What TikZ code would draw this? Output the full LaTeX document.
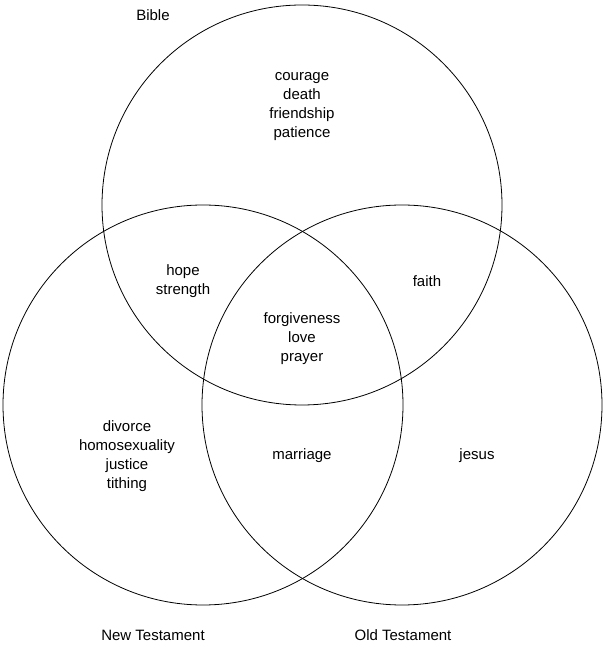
\documentclass[tikz,border=0pt]{standalone}
\usepackage{fontspec}
\setmainfont{Liberation Sans}

\tikzset{set/.style={draw, line width=0.8pt},
         term/.style={align=center, font=\fontsize{15}{19}\selectfont, inner sep=0pt}}

\begin{document}
\begin{tikzpicture}[x=1pt, y=1pt]
\useasboundingbox (0,0) rectangle (606,648);
\draw[set] (302,443) circle (200);
\draw[set] (203,243) circle (200);
\draw[set] (402,243) circle (200);
\node[term] (bible) at (153,633) {Bible};
\node[term] (nt) at (153,13) {New Testament};
\node[term] (ot) at (403,13) {Old Testament};
\node[term] (b) at (302,541) {courage\\death\\friendship\\patience};
\node[term] (bn) at (183,367) {hope\\strength};
\node[term] (bo) at (427,367) {faith};
\node[term] (bno) at (302,309) {forgiveness\\love\\prayer};
\node[term] (n) at (127,192) {divorce\\homosexuality\\justice\\tithing};
\node[term] (no) at (302,192) {marriage};
\node[term] (o) at (477,192) {jesus};
\end{tikzpicture}
\end{document}
